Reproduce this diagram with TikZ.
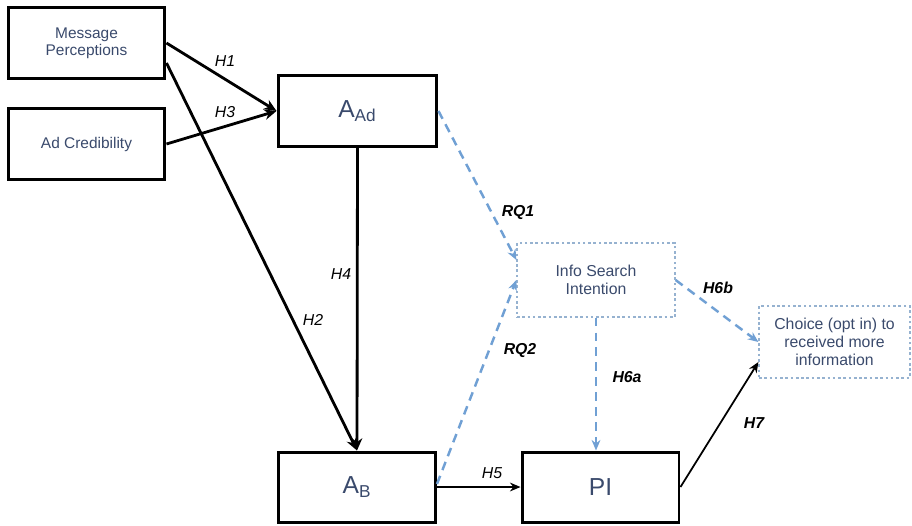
\documentclass[tikz,border=0pt]{standalone}
\usepackage{fontspec}
\setmainfont{Liberation Sans}
\usetikzlibrary{arrows.meta}
\definecolor{textblue}{RGB}{58,74,108}
\definecolor{dashblue}{RGB}{112,160,212}
\definecolor{edgeblue}{RGB}{150,178,208}

\begin{document}
\begin{tikzpicture}[x=0.02cm,y=-0.02cm,>=Stealth,
	solidbox/.style={draw=black,line width=1.7pt,text=textblue,align=center,
		minimum width=3.14cm,minimum height=1.42cm,inner sep=0pt,
		font=\fontsize{8.8}{9.8}\selectfont},
	bigbox/.style={solidbox,font=\fontsize{14}{16}\selectfont},
	dashbox/.style={draw=edgeblue,dash pattern=on 1.5pt off 1.5pt,line width=0.7pt,
		text=textblue,align=center,inner sep=0pt,
		font=\fontsize{9}{10.3}\selectfont},
	path/.style={line width=1.6pt,-{Stealth[length=7pt,width=6pt]}},
	thinpath/.style={line width=1pt,-{Stealth[length=6pt,width=5pt]}},
	dashpath/.style={draw=dashblue,line width=1.4pt,dash pattern=on 5pt off 3.5pt,
		-{Stealth[length=6pt,width=5pt]}},
	hlabel/.style={font=\fontsize{9}{10}\selectfont\itshape},
	rqlabel/.style={font=\fontsize{9}{10}\selectfont\bfseries\itshape}]
	\useasboundingbox (0,0) rectangle (912,525);
	% boxes
	\node[solidbox] (mp) at (86.5,43) {Message\\Perceptions};
	\node[solidbox] (ac) at (86.5,144) {Ad Credibility};
	\node[bigbox,minimum width=3.18cm] (aad) at (357.5,111) {A\textsubscript{Ad}};
	\node[bigbox,minimum height=1.40cm] (ab) at (357,487) {A\textsubscript{B}};
	\node[bigbox,minimum height=1.40cm] (pi) at (600.5,487) {PI};
	\node[dashbox,minimum width=3.16cm,minimum height=1.48cm] (info) at (596,280)
		{Info Search\\Intention};
	\node[dashbox,minimum width=3.02cm,minimum height=1.44cm] (choice) at (834.5,342)
		{Choice (opt in) to\\received more\\information};
	% hypotheses
	\draw[path] (mp.east) -- (aad.west);
	\draw[path] (ac.east) -- (aad.west);
	\draw[path] ([yshift=-0.4cm]mp.east) -- (ab.north);
	\draw[path] (aad.south) -- (ab.north);
	\draw[thinpath,line width=1.4pt] (ab.east) -- (pi.west);
	\draw[thinpath] (pi.east) -- ([yshift=-0.4cm]choice.west);
	\draw[dashpath] (aad.east) -- ([yshift=0.4cm]info.west);
	\draw[dashpath] ([yshift=0.06cm]ab.east) -- (info.west);
	\draw[dashpath] (info.south) -- (info.south |- pi.north);
	\draw[dashpath] (info.east) -- (choice.west);
	% labels
	\node[hlabel] (h1) at (225,61) {H1};
	\node[hlabel] (h3) at (225,112) {H3};
	\node[hlabel] (h2) at (313,320) {H2};
	\node[hlabel] (h4) at (341,274) {H4};
	\node[hlabel] (h5) at (492,473) {H5};
	\node[rqlabel] (rq1) at (518,213) {RQ1};
	\node[rqlabel] (rq2) at (520,351) {RQ2};
	\node[rqlabel] (h6a) at (627,377) {H6a};
	\node[rqlabel] (h6b) at (718,288) {H6b};
	\node[rqlabel] (h7) at (754,423) {H7};
\end{tikzpicture}
\end{document}
